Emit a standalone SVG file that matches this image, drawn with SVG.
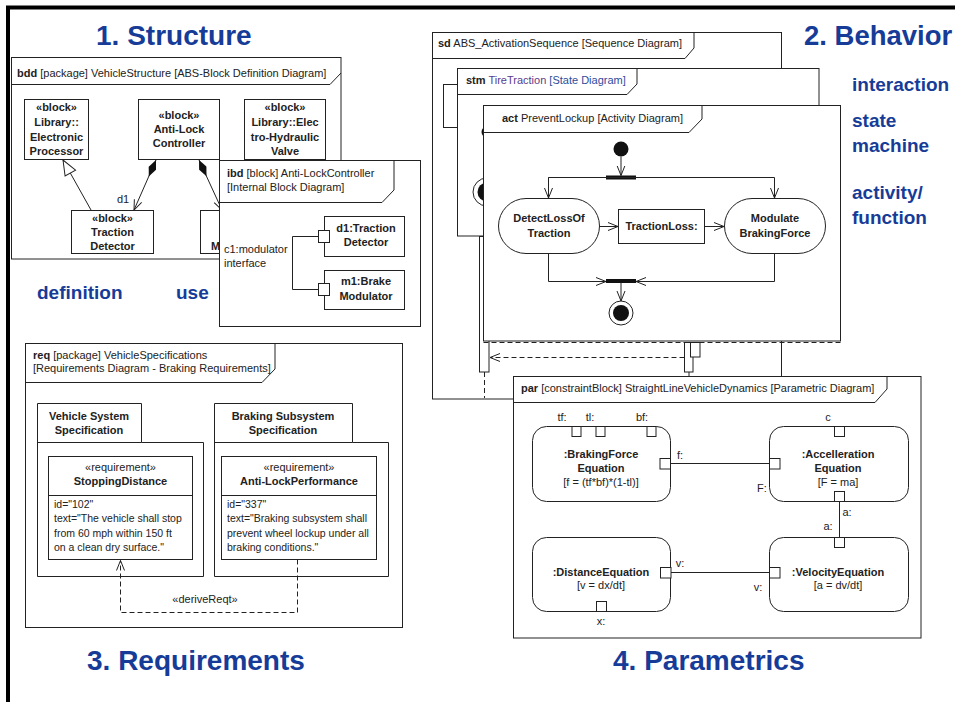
<svg xmlns="http://www.w3.org/2000/svg" width="955" height="702" viewBox="0 0 955 702">
<style>
text{font-family:"Liberation Sans",Arial,Helvetica,sans-serif;font-size:11px;fill:#222}
.b{font-weight:bold}
.m{text-anchor:middle}
.s{font-size:10.5px}
.h1{font-size:28px;font-weight:bold;fill:#163c98}
.h2{font-size:19px;font-weight:bold;fill:#163c98}
.fr{fill:#fff;stroke:#222;stroke-width:1}
.ln{fill:none;stroke:#222;stroke-width:1}
.bx{fill:#fff;stroke:#222;stroke-width:1}
.dash{stroke-dasharray:5 3}
.blk{fill:#111}
</style>
<defs>
<marker id="oa" markerUnits="userSpaceOnUse" viewBox="0 -5 11 10" markerWidth="11" markerHeight="10" refX="10" refY="0" orient="auto"><path d="M0,-4 L10,0 L0,4" fill="none" stroke="#222" stroke-width="1"/></marker>
<marker id="tri" markerUnits="userSpaceOnUse" viewBox="-1 -8 17 16" markerWidth="17" markerHeight="16" refX="15" refY="0" orient="auto"><path d="M0,-6 L15,0 L0,6 Z" fill="#fff" stroke="#222" stroke-width="1"/></marker>
<marker id="dia" markerUnits="userSpaceOnUse" viewBox="-1 -5 20 10" markerWidth="20" markerHeight="10" refX="0" refY="0" orient="auto"><path d="M0,0 L9,-4 L18,0 L9,4 Z" fill="#111"/></marker>
</defs>
<rect width="955" height="702" fill="#fff"/>
<path d="M8,702 L8,7.5 L955,7.5" fill="none" stroke="#000" stroke-width="4"/>

<!-- titles -->
<text class="h1" x="96" y="45">1. Structure</text>
<text class="h1" x="804" y="45" style="font-size:27.5px">2. Behavior</text>
<text class="h1" x="87" y="670">3. Requirements</text>
<text class="h1" x="613" y="670">4. Parametrics</text>
<text class="h2" x="37" y="299">definition</text>
<text class="h2" x="176" y="299">use</text>
<text class="h2" x="852" y="91">interaction</text>
<text class="h2" x="852" y="127">state</text>
<text class="h2" x="852" y="152">machine</text>
<text class="h2" x="852" y="199">activity/</text>
<text class="h2" x="852" y="224">function</text>

<!-- 1. Structure: bdd -->
<g id="bdd">
<rect class="fr" x="11.5" y="57.5" width="329.5" height="201.5"/>
<path class="ln" d="M11.5,84.5 H330 L341,73"/>
<text x="17" y="77"><tspan class="b">bdd</tspan> [package] VehicleStructure [ABS-Block Definition Diagram]</text>
</g>
<g id="electronic-processor">
<rect class="bx" x="24.5" y="99.5" width="64" height="60"/>
<text class="b m" x="56.5" y="111">«block»</text>
<text class="b m" x="56.5" y="126">Library::</text>
<text class="b m" x="56.5" y="141">Electronic</text>
<text class="b m" x="56.5" y="155">Processor</text>
</g>
<g id="anti-lock-controller">
<rect class="bx" x="138.5" y="99.5" width="81" height="60"/>
<text class="b m" x="179" y="119">«block»</text>
<text class="b m" x="179" y="133">Anti-Lock</text>
<text class="b m" x="179" y="147">Controller</text>
</g>
<g id="electro-hydraulic-valve">
<rect class="bx" x="244.5" y="99.5" width="81" height="60"/>
<text class="b m" x="285" y="111">«block»</text>
<text class="b m" x="285" y="126">Library::Elec</text>
<text class="b m" x="285" y="141">tro-Hydraulic</text>
<text class="b m" x="285" y="155">Valve</text>
</g>
<g id="traction-detector">
<rect class="bx" x="71.5" y="210.5" width="82" height="43"/>
<text class="b m" x="112.5" y="222">«block»</text>
<text class="b m" x="112.5" y="236">Traction</text>
<text class="b m" x="112.5" y="250">Detector</text>
</g>
<g id="brake-modulator">
<rect class="bx" x="200.5" y="210.5" width="82" height="43"/>
<text class="b" x="211" y="250">M</text>
</g>
<g id="connectors-bdd">
<path class="ln" d="M91,210 L63,160" marker-end="url(#tri)"/>
<path class="ln" d="M156,160 L134,210" marker-start="url(#dia)" marker-end="url(#oa)"/>
<text x="117" y="203">d1</text>
<path class="ln" d="M199,160 L222,210" marker-start="url(#dia)" marker-end="url(#oa)"/>
</g>

<!-- ibd -->
<g id="ibd">
<rect class="fr" x="219.5" y="160.5" width="201" height="166"/>
<path class="ln" d="M219.5,202.5 H382 L394,190 V160.5"/>
<text x="227" y="177"><tspan class="b">ibd</tspan> [block] Anti-LockController</text>
<text x="227" y="191">[Internal Block Diagram]</text>
<text x="224" y="253">c1:modulator</text>
<text x="224" y="267">interface</text>
</g>
<g id="d1-traction-detector">
<rect class="bx" x="324.5" y="216.5" width="80" height="40"/>
<text class="b m" x="366" y="232">d1:Traction</text>
<text class="b m" x="366" y="246">Detector</text>
<rect class="bx" x="318.5" y="230.5" width="11" height="12"/>
</g>
<g id="m1-brake-modulator">
<rect class="bx" x="324.5" y="270.5" width="80" height="39"/>
<text class="b m" x="366" y="285">m1:Brake</text>
<text class="b m" x="366" y="300">Modulator</text>
<rect class="bx" x="318.5" y="283.5" width="11" height="12"/>
</g>
<g id="connectors-ibd">
<path class="ln" d="M318.5,236.5 H292.5 V289.5 H318.5"/>
</g>

<!-- 3. Requirements -->
<g id="req">
<rect class="fr" x="25.5" y="343.5" width="377" height="284"/>
<path class="ln" d="M25.5,382.5 H262 L275,369 V343.5"/>
<text x="33" y="359"><tspan class="b">req</tspan> [package] VehicleSpecifications</text>
<text x="33" y="372">[Requirements Diagram - Braking Requirements]</text>
</g>
<g id="vehicle-system-specification">
<path class="bx" d="M37.5,576.5 V403.5 H141.5 V442.5 H203.5 V576.5 Z"/>
<path class="ln" d="M37.5,442.5 H141.5"/>
<text class="b m" x="89" y="420">Vehicle System</text>
<text class="b m" x="89" y="434">Specification</text>
</g>
<g id="stopping-distance">
<rect class="bx" x="48.5" y="456.5" width="144" height="103"/>
<path class="ln" d="M48.5,495.5 H192.5"/>
<text class="m" x="120.5" y="471">«requirement»</text>
<text class="b m" x="120.5" y="485">StoppingDistance</text>
<text class="s" x="54" y="508">id="102"</text>
<text class="s" x="54" y="522">text="The vehicle shall stop</text>
<text class="s" x="54" y="537">from 60 mph within 150 ft</text>
<text class="s" x="54" y="551">on a clean dry surface."</text>
</g>
<g id="braking-subsystem-specification">
<path class="bx" d="M214.5,576.5 V403.5 H352.5 V442.5 H388.5 V576.5 Z"/>
<path class="ln" d="M214.5,442.5 H352.5"/>
<text class="b m" x="283" y="420">Braking  Subsystem</text>
<text class="b m" x="283" y="434">Specification</text>
</g>
<g id="anti-lock-performance">
<rect class="bx" x="221.5" y="456.5" width="155" height="103"/>
<path class="ln" d="M221.5,495.5 H376.5"/>
<text class="m" x="299" y="471">«requirement»</text>
<text class="b m" x="299" y="485">Anti-LockPerformance</text>
<text class="s" x="227" y="508">id="337"</text>
<text class="s" x="227" y="522">text="Braking subsystem shall</text>
<text class="s" x="227" y="537">prevent wheel lockup under all</text>
<text class="s" x="227" y="551">braking conditions."</text>
</g>
<g id="connectors-req">
<path class="ln dash" stroke-width="1.5" d="M297.5,559.5 V612.5 H120.5 V560.5" marker-end="url(#oa)"/>
<text class="m" x="205" y="603">«deriveReqt»</text>
</g>

<!-- 2. Behavior: sd -->
<g id="sd">
<rect class="fr" x="432.5" y="32.5" width="349" height="366.5"/>
<path class="ln" d="M432.5,58.5 H685 L694,48 V32.5"/>
<text x="438" y="47"><tspan class="b">sd</tspan> ABS_ActivationSequence [Sequence Diagram]</text>
<rect class="bx" x="443.5" y="84.5" width="14" height="43"/>
<rect class="bx" x="479.5" y="236.5" width="9.5" height="135.5"/>
<path class="ln dash" stroke="#666" d="M484.5,372 V398"/>
</g>
<!-- stm -->
<g id="stm">
<rect class="fr" x="457.5" y="68.5" width="361.5" height="167.5"/>
<path class="ln" d="M457.5,94.5 H627 L637,84 V68.5"/>
<text x="466" y="84"><tspan class="b">stm</tspan> <tspan fill="#5a3b8c">TireTraction</tspan> <tspan fill="#2d4c9c">[State Diagram]</tspan></text>
<circle cx="487" cy="132" r="5.5" class="blk"/>
<circle cx="487" cy="192" r="14" fill="#fff" stroke="#222"/>
<circle cx="487" cy="192" r="9.5" class="blk"/>
</g>
<!-- act -->
<g id="act">
<rect class="fr" x="483.5" y="105.5" width="357" height="235.5"/>
<path class="ln" d="M483.5,132.5 H689 L702,119 V105.5"/>
<text x="502" y="122"><tspan class="b">act</tspan> PreventLockup [Activity Diagram]</text>
<path class="ln dash" stroke-width="1.6" d="M483.5,342.5 H840.5"/>
</g>
<g id="initial-node"><circle cx="621" cy="149" r="7.5" class="blk"/></g>
<g id="fork"><rect x="606" y="175.5" width="30" height="4" class="blk"/></g>
<g id="detect-loss-of-traction">
<rect class="bx" x="498.5" y="198.5" width="101" height="55" rx="27.5"/>
<text class="b m" x="549" y="222">DetectLossOf</text>
<text class="b m" x="549" y="237">Traction</text>
</g>
<g id="traction-loss">
<rect class="bx" x="618.5" y="209.5" width="86" height="34"/>
<text class="b m" x="661.5" y="230">TractionLoss:</text>
</g>
<g id="modulate-braking-force">
<rect class="bx" x="724.5" y="198.5" width="101" height="55" rx="27.5"/>
<text class="b m" x="775" y="222">Modulate</text>
<text class="b m" x="775" y="237">BrakingForce</text>
</g>
<g id="join"><rect x="606" y="279" width="30" height="4" class="blk"/></g>
<g id="final-node">
<circle cx="621" cy="313" r="12" fill="#fff" stroke="#222"/>
<circle cx="621" cy="313" r="8" class="blk"/>
</g>
<g id="connectors-act">
<path class="ln" d="M621,156.5 V175.5" marker-end="url(#oa)"/>
<path class="ln" d="M548.5,198 V177.5 H774.5 V198" marker-end="url(#oa)"/>
<path class="ln" d="M548.5,177.5 V198" marker-end="url(#oa)"/>
<path class="ln" d="M599.5,226.5 H618" marker-end="url(#oa)"/>
<path class="ln" d="M704.5,226.5 H724" marker-end="url(#oa)"/>
<path class="ln" d="M548.5,253.5 V281.5 H606" marker-end="url(#oa)"/>
<path class="ln" d="M774.5,253.5 V281.5 H636" marker-end="url(#oa)"/>
<path class="ln" d="M621,283 V301" marker-end="url(#oa)"/>
</g>
<!-- sd items below act -->
<g id="sd-activations">
<rect class="bx" x="684.5" y="342.5" width="8.5" height="29.5"/>
<rect class="bx" x="690.5" y="342.5" width="9.5" height="14.5"/>
<path class="ln" d="M689,372 V376"/>
</g>
<g id="connectors-sd">
<path class="ln dash" stroke="#555" d="M684.5,357.5 H490" marker-end="url(#oa)"/>
</g>

<!-- 4. Parametrics -->
<g id="par">
<rect class="fr" x="513.5" y="376.5" width="407.5" height="261.5"/>
<path class="ln" d="M513.5,402.5 H875 L887,389 V376.5"/>
<text x="521" y="392"><tspan class="b">par</tspan> [constraintBlock] StraightLineVehicleDynamics [Parametric Diagram]</text>
</g>
<g id="braking-force-equation">
<rect class="bx" x="532.5" y="426.5" width="138" height="75" rx="14"/>
<text class="b m" x="601" y="458">:BrakingForce</text>
<text class="b m" x="601" y="472">Equation</text>
<text class="m" x="601" y="486">[f = (tf*bf)*(1-tl)]</text>
<rect class="bx" x="572" y="426.5" width="9" height="10"/>
<rect class="bx" x="596" y="426.5" width="9" height="10"/>
<rect class="bx" x="647" y="426.5" width="9" height="10"/>
<rect class="bx" x="660" y="458.5" width="10.5" height="10.5"/>
<text class="m" x="562" y="421">tf:</text>
<text class="m" x="590" y="421">tl:</text>
<text class="m" x="642" y="421">bf:</text>
</g>
<g id="accelleration-equation">
<rect class="bx" x="769.5" y="426.5" width="139" height="75" rx="14"/>
<text class="b m" x="838" y="458">:Accelleration</text>
<text class="b m" x="838" y="472">Equation</text>
<text class="m" x="838" y="486">[F = ma]</text>
<rect class="bx" x="834.5" y="426.5" width="10" height="10"/>
<rect class="bx" x="769.5" y="458.5" width="10.5" height="10.5"/>
<rect class="bx" x="834.5" y="491.5" width="10" height="10"/>
<text class="m" x="828" y="421">c</text>
</g>
<g id="distance-equation">
<rect class="bx" x="532.5" y="537.5" width="138" height="74" rx="14"/>
<text class="b m" x="601" y="576">:DistanceEquation</text>
<text class="m" x="601" y="589">[v = dx/dt]</text>
<rect class="bx" x="660.5" y="567.5" width="10.5" height="10.5"/>
<rect class="bx" x="596.5" y="601.5" width="10" height="10"/>
<text class="m" x="601" y="625">x:</text>
</g>
<g id="velocity-equation">
<rect class="bx" x="769.5" y="537.5" width="139" height="74" rx="14"/>
<text class="b m" x="838" y="576">:VelocityEquation</text>
<text class="m" x="838" y="589">[a = dv/dt]</text>
<rect class="bx" x="834.5" y="537.5" width="10" height="10"/>
<rect class="bx" x="769.5" y="567.5" width="10.5" height="10.5"/>
</g>
<g id="connectors-par">
<path class="ln" d="M670.5,463.5 H769.5"/>
<text class="m" x="680" y="459">f:</text>
<text class="m" x="762" y="492">F:</text>
<path class="ln" d="M839.5,501.5 V537.5"/>
<text class="m" x="847" y="516">a:</text>
<text class="m" x="828" y="530">a:</text>
<path class="ln" d="M671,572.5 H769.5"/>
<text class="m" x="680" y="567">v:</text>
<text class="m" x="758" y="591">v:</text>
</g>
</svg>
